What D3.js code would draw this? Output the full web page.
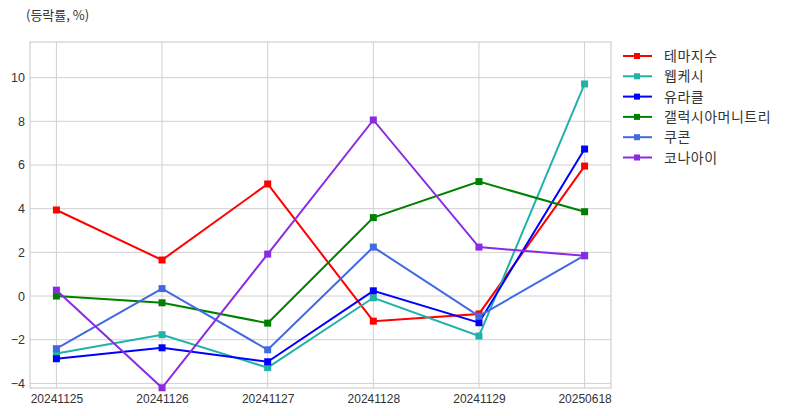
<!DOCTYPE html>
<html><head><meta charset="utf-8">
<script src="https://cdn.jsdelivr.net/npm/d3@7"></script>
<style>body{margin:0;background:#fff;}svg{display:block;font-family:"Noto Sans CJK KR","Noto Sans",sans-serif;}</style>
</head><body>
<svg id="c" width="789" height="416"></svg>
<script>
const dates = ["20241125","20241126","20241127","20241128","20241129","20250618"];
const seriesNames = ["테마지수","웹케시","유라클","갤럭시아머니트리","쿠콘","코나아이"];
const seriesColors = ["#ff0000","#20b2aa","#0000ff","#008000","#4169e1","#8a2be2"];
const themeIdx = [3.94, 1.65, 5.13, -1.15, -0.82, 5.95];
const webcash = [-2.63, -1.77, -3.28, -0.08, -1.83, 9.71];
const uracle = [-2.87, -2.37, -3.01, 0.24, -1.22, 6.73];
const galaxia = [0.0, -0.31, -1.24, 3.59, 5.24, 3.86];
const coocon = [-2.41, 0.34, -2.46, 2.24, -0.92, 1.86];
const konai = [0.27, -4.2, 1.92, 8.06, 2.24, 1.84];
const yTicks = [-4, -2, 0, 2, 4, 6, 8, 10];
const allSeries = [themeIdx, webcash, uracle, galaxia, coocon, konai];

const svg = d3.select("#c");
const L = 30, R = 611, T = 42, B = 388;
const x = d3.scalePoint().domain(dates).range([L, R]).padding(0.25);
const y = d3.scaleLinear().domain([-4.21, 11.63]).range([B, T]);

// grid
svg.append("g").selectAll("line").data(yTicks).join("line")
  .attr("x1", L).attr("x2", R).attr("y1", d => y(d)).attr("y2", d => y(d))
  .attr("stroke", "#d0d0d0").attr("stroke-width", 1);
svg.append("g").selectAll("line").data(dates).join("line")
  .attr("x1", d => x(d)).attr("x2", d => x(d)).attr("y1", T).attr("y2", B)
  .attr("stroke", "#d0d0d0").attr("stroke-width", 1);
svg.append("rect").attr("x", L).attr("y", T).attr("width", R - L).attr("height", B - T)
  .attr("fill", "none").attr("stroke", "#cfcfcf").attr("stroke-width", 1.2);

// axes
const yAxis = d3.axisLeft(y).tickValues(yTicks).tickSize(0).tickPadding(5);
svg.append("g").attr("transform", `translate(${L},0)`).call(yAxis)
  .call(g => g.select(".domain").remove())
  .selectAll("text").attr("font-size", 12.5).attr("fill", "#333");
const xAxis = d3.axisBottom(x).tickSize(0).tickPadding(6);
svg.append("g").attr("transform", `translate(0,${B})`).call(xAxis)
  .call(g => g.select(".domain").remove())
  .selectAll("text").attr("font-size", 12).attr("fill", "#333");

// lines
const line = d3.line().x((d, i) => x(dates[i])).y(d => y(d));
allSeries.forEach((s, k) => {
  const g = svg.append("g");
  g.append("path").datum(s).attr("d", line).attr("fill", "none")
    .attr("stroke", seriesColors[k]).attr("stroke-width", 2);
  g.selectAll("rect").data(s).join("rect")
    .attr("x", (d, i) => x(dates[i]) - 3.5).attr("y", d => y(d) - 3.5)
    .attr("width", 7).attr("height", 7).attr("fill", seriesColors[k]);
});

// title
svg.append("text").attr("x", 26).attr("y", 20).attr("font-size", 13).attr("fill", "#333").text("(등락률, %)");

// legend
const lg = svg.append("g");
seriesNames.forEach((n, k) => {
  const yy = 56 + k * 20.3;
  lg.append("line").attr("x1", 623).attr("x2", 652).attr("y1", yy).attr("y2", yy)
    .attr("stroke", seriesColors[k]).attr("stroke-width", 2);
  lg.append("rect").attr("x", 634).attr("y", yy - 3).attr("width", 6).attr("height", 6).attr("fill", seriesColors[k]);
  lg.append("text").attr("x", 664).attr("y", yy + 5).attr("font-size", 14).attr("letter-spacing", 0.5)
    .attr("fill", "#333").text(n);
});
</script>
</body></html>
